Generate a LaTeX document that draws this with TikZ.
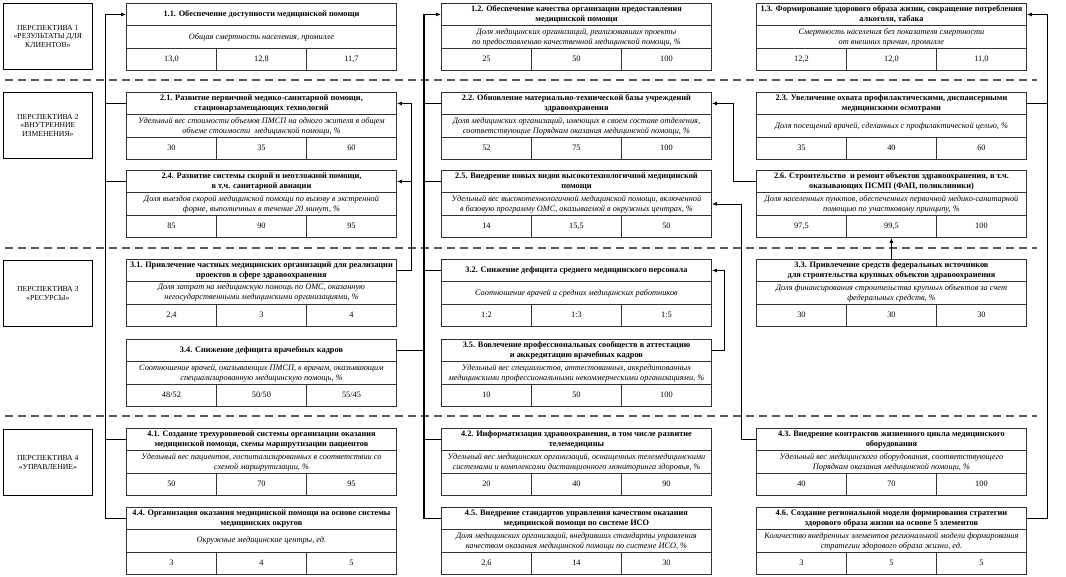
\documentclass[tikz,border=0pt]{standalone}
\usepackage{fontspec}
\setmainfont{Liberation Serif}
\usetikzlibrary{arrows.meta}
\tikzset{
  kcell/.style={draw=black!80, line width=0.9pt, minimum width=270pt, inner xsep=1pt, inner ysep=0pt, align=center, anchor=north west},
  kttl/.style={kcell, minimum height=22pt, font=\fontsize{8.3}{10}\selectfont\bfseries},
  kind/.style={kcell, minimum height=23pt, font=\fontsize{8.3}{10}\selectfont\itshape},
  kval/.style={kcell, minimum width=90pt, minimum height=22pt, text height=5.8pt, text depth=1.6pt, font=\fontsize{8.3}{10}\selectfont},
  persp/.style={draw=black, line width=0.7pt, minimum width=89pt, minimum height=66pt, align=center, anchor=north west, inner sep=1pt, font=\fontsize{7.7}{8.8}\selectfont},
  sepline/.style={draw=black!65, line width=1.3pt, dash pattern=on 8pt off 5pt},
  ln/.style={draw=black, line width=0.9pt},
  arr/.style={ln, -{Latex[length=5pt,width=4pt]}},
}
\newcommand{\kpibox}[8]{%
  \node[kttl] (#1t) at (#2,#3) {#4};
  \node[kind] (#1i) at (#2,#3+22) {#5};
  \node[kval] (#1a) at (#2,#3+45) {#6};
  \node[kval] (#1b) at (#2+90,#3+45) {#7};
  \node[kval] (#1c) at (#2+180,#3+45) {#8};
}
\begin{document}
\begin{tikzpicture}[x=1pt,y=-1pt]
\useasboundingbox (0,0) rectangle (1066,576);
\fill[white] (0,0) rectangle (1066,576);

% separators
\draw[sepline] (5,80) -- (1037,80);
\draw[sepline] (5,248) -- (1037,248);
\draw[sepline] (5,416) -- (1037,416);

% perspectives
\node[persp] (p1) at (3,3) {ПЕРСПЕКТИВА 1\\«РЕЗУЛЬТАТЫ ДЛЯ\\КЛИЕНТОВ»};
\node[persp] (p2) at (3,92) {ПЕРСПЕКТИВА 2\\«ВНУТРЕННИЕ\\ИЗМЕНЕНИЯ»};
\node[persp] (p3) at (3,260) {ПЕРСПЕКТИВА 3\\«РЕСУРСЫ»};
\node[persp] (p4) at (3,429) {ПЕРСПЕКТИВА 4\\«УПРАВЛЕНИЕ»};

% row 1
\kpibox{b11}{126}{3}{1.1. Обеспечение доступности медицинской помощи}{Общая смертность населения, промилле}{13,0}{12,8}{11,7}
\kpibox{b12}{441}{3}{1.2. Обеспечение качества организации предоставления\\медицинской помощи}{Доля медицинских организаций, реализовавших проекты\\по предоставлению качественной медицинской помощи, \%}{25}{50}{100}
\kpibox{b13}{756}{3}{1.3. Формирование здорового образа жизни, сокращение потребления\\алкоголя, табака}{Смертность населения без показателя смертности\\от внешних причин, промилле}{12,2}{12,0}{11,0}

% row 2
\kpibox{b21}{126}{92}{2.1. Развитие первичной медико-санитарной помощи,\\стационарзамещающих технологий}{Удельный вес стоимости объемов ПМСП на одного жителя в общем\\объеме стоимости \ медицинской помощи, \%}{30}{35}{60}
\kpibox{b22}{441}{92}{2.2. Обновление материально-технической базы учреждений\\здравоохранения}{Доля медицинских организаций, имеющих в своем составе отделения,\\соответствующие Порядкам оказания медицинской помощи, \%}{52}{75}{100}
\kpibox{b23}{756}{92}{2.3. Увеличение охвата профилактическими, диспансерными\\медицинскими осмотрами}{Доля посещений врачей, сделанных с профилактической целью, \%}{35}{40}{60}

\kpibox{b24}{126}{170}{2.4. Развитие системы скорой и неотложной помощи,\\в т.ч. санитарной авиации}{Доля выездов скорой медицинской помощи по вызову в экстренной\\форме, выполненных в течение 20 минут, \%}{85}{90}{95}
\kpibox{b25}{441}{170}{2.5. Внедрение новых видов высокотехнологичной медицинской\\помощи}{Удельный вес высокотехнологичной медицинской помощи, включенной\\в базовую программу ОМС, оказываемой в окружных центрах, \%}{14}{15,5}{50}
\kpibox{b26}{756}{170}{2.6. Строительство \ и ремонт объектов здравоохранения, в т.ч.\\оказывающих ПСМП (ФАП, поликлиники)}{Доля населенных пунктов, обеспеченных первичной медико-санитарной\\помощью по участковому принципу, \%}{97,5}{99,5}{100}

% row 3
\kpibox{b31}{126}{259}{3.1. Привлечение частных медицинских организаций для реализации\\проектов в сфере здравоохранения}{Доля затрат на медицинскую помощь по ОМС, оказанную\\негосударственными медицинскими организациями, \%}{2,4}{3}{4}
\kpibox{b32}{441}{259}{3.2. Снижение дефицита среднего медицинского персонала}{Соотношение врачей и средних медицинских работников}{1:2}{1:3}{1:5}
\kpibox{b33}{756}{259}{3.3. Привлечение средств федеральных источников\\для строительства крупных объектов здравоохранения}{Доля финансирования строительства крупных объектов за счет\\федеральных средств, \%}{30}{30}{30}

\kpibox{b34}{126}{339}{3.4. Снижение дефицита врачебных кадров}{Соотношение врачей, оказывающих ПМСП, к врачам, оказывающим\\специализированную медицинскую помощь, \%}{48/52}{50/50}{55/45}
\kpibox{b35}{441}{339}{3.5. Вовлечение профессиональных сообществ в аттестацию\\и аккредитацию врачебных кадров}{Удельный вес специалистов, аттестованных, аккредитованных\\медицинскими профессиональными некоммерческими организациями, \%}{10}{50}{100}

% row 4
\kpibox{b41}{126}{428}{4.1. Создание трехуровневой системы организации оказания\\медицинской помощи, схемы маршрутизации пациентов}{Удельный вес пациентов, госпитализированных в соответствии со\\схемой маршрутизации, \%}{50}{70}{95}
\kpibox{b42}{441}{428}{4.2. Информатизация здравоохранения, в том числе развитие\\телемедицины}{Удельный вес медицинских организаций, оснащенных телемедицинскими\\системами и комплексами дистанционного мониторинга здоровья, \%}{20}{40}{90}
\kpibox{b43}{756}{428}{4.3. Внедрение контрактов жизненного цикла медицинского\\оборудования}{Удельный вес медицинского оборудования, соответствующего\\Порядкам оказания медицинской помощи, \%}{40}{70}{100}

\kpibox{b44}{126}{507}{4.4. Организация оказания медицинской помощи на основе системы\\медицинских округов}{Окружные медицинские центры, ед.}{3}{4}{5}
\kpibox{b45}{441}{507}{4.5. Внедрение стандартов управления качеством оказания\\медицинской помощи по системе ИСО}{Доля медицинских организаций, внедривших стандарты управления\\качеством оказания медицинской помощи по системе ИСО, \%}{2,6}{14}{30}
\kpibox{b46}{756}{507}{4.6. Создание региональной модели формирования стратегии\\здорового образа жизни на основе 5 элементов}{Количество внедренных элементов региональной модели формирования\\стратегии здорового образа жизни, ед.}{3}{5}{5}

% connectors: left trunk into 1.1
\draw[arr] (b44t.west) -- ++(-21,0) |- (b11t.west);
\draw[ln] (b21t.west) -- ++(-21,0);
\draw[ln] (b24t.west) -- ++(-21,0);
\draw[ln] (b41t.west) -- ++(-21,0);

% 3.1 -> 2.1, 2.4
\draw[arr] (b31t.east) -- ++(15,0) coordinate (r31) |- (b21t.east);
\draw[arr] (r31) |- (b24t.east);

% trunk into 1.2
\draw[arr, line width=1.5pt] (b45t.west) -- ++(-17,0) |- (b12t.west);
\draw[ln] (b22t.west) -- ++(-17,0);
\draw[ln] (b25t.west) -- ++(-17,0);
\draw[ln] (b32t.west) -- ++(-17,0);
\draw[ln] (b42t.west) -- ++(-17,0);
\draw[ln] (b34t.east) -- ++(28,0);

% 2.6 -> 2.2
\draw[arr] (b26t.west) -- ++(-23,0) |- (b22t.east);
% 4.3 -> 2.5
\draw[arr] (b43t.west) -- ++(-15,0) |- (b25i.east);
% 3.5 -> 3.2
\draw[arr] (b35t.east) -- ++(13,0) |- (b32t.east);
% 4.6, 2.3 -> 1.3
\draw[arr] (b46t.east) -- ++(21,0) |- (b13t.east);
\draw[ln] (b23t.east) -- ++(21,0);
% 3.3 -> 2.6
\draw[arr] (b33t.north) -- (b26b.south);
\end{tikzpicture}
\end{document}
